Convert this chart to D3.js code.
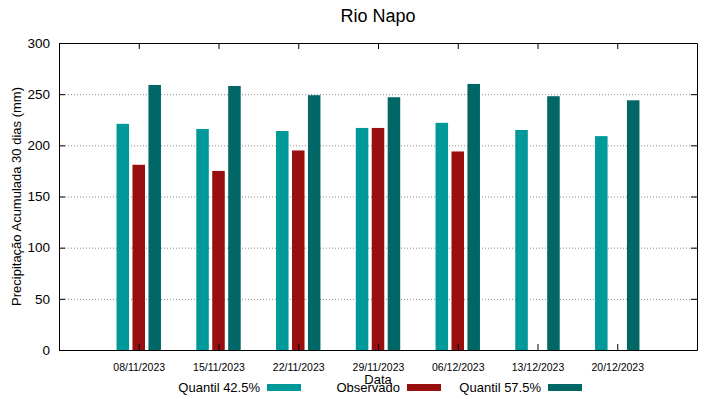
<!DOCTYPE html>
<html>
<head>
<meta charset="utf-8">
<script src="https://cdn.jsdelivr.net/npm/d3@7"></script>
<style>
  body { margin: 0; background: #fff; }
  svg { font-family: "Liberation Sans", Arial, sans-serif; }
</style>
</head>
<body>
<div id="chart"></div>
<script>
const dates = ["08/11/2023", "15/11/2023", "22/11/2023", "29/11/2023", "06/12/2023", "13/12/2023", "20/12/2023"];
const quantil425 = [221, 216, 214, 217, 222, 215, 209];
const observado = [181, 175, 195, 217, 194, null, null];
const quantil575 = [259, 258, 249, 247, 260, 248, 244];
const yTicks = [0, 50, 100, 150, 200, 250, 300];

const series = [
  { name: "Quantil 42.5%", values: quantil425, color: "#009999", offset: -1 },
  { name: "Observado", values: observado, color: "#990f0f", offset: 0 },
  { name: "Quantil 57.5%", values: quantil575, color: "#006666", offset: 1 }
];

const width = 719, height = 399;
const margin = { top: 43, right: 22, bottom: 49, left: 59 };

const svg = d3.select("#chart").append("svg")
  .attr("width", width)
  .attr("height", height);

const x = d3.scaleLinear().domain([-1, dates.length]).range([margin.left, width - margin.right]);
const y = d3.scaleLinear().domain([0, 300]).range([height - margin.bottom, margin.top]);

const barW = 0.157, step = 0.2;

// grid lines
svg.append("g")
  .selectAll("line")
  .data(yTicks.filter(d => d > 0 && d < 300))
  .join("line")
  .attr("x1", margin.left).attr("x2", width - margin.right)
  .attr("y1", d => y(d) + 0.5).attr("y2", d => y(d) + 0.5)
  .attr("stroke", "#888")
  .attr("stroke-width", 1)
  .attr("stroke-dasharray", "1,2");

// bars
series.forEach(s => {
  svg.append("g")
    .selectAll("rect")
    .data(s.values.map((v, i) => ({ v, i })).filter(d => d.v != null))
    .join("rect")
    .attr("x", d => x(d.i + s.offset * step - barW / 2))
    .attr("width", x(barW) - x(0))
    .attr("y", d => y(d.v))
    .attr("height", d => y(0) - y(d.v))
    .attr("fill", s.color);
});

// axes (gnuplot-like box with inward ticks)
const axisL = d3.axisLeft(y).tickValues(yTicks).tickSizeInner(-6).tickSizeOuter(0).tickPadding(9);
const axisR = d3.axisRight(y).tickValues(yTicks).tickSizeInner(-6).tickSizeOuter(0).tickFormat("");
const axisB = d3.axisBottom(x).tickValues(d3.range(dates.length)).tickSizeInner(-6).tickSizeOuter(0)
  .tickPadding(14).tickFormat(i => dates[i]);
const axisT = d3.axisTop(x).tickValues(d3.range(dates.length)).tickSizeInner(-6).tickSizeOuter(0).tickFormat("");

svg.append("g").attr("transform", `translate(${margin.left},0)`).call(axisL)
  .call(g => g.selectAll("text").attr("font-size", 13.5).attr("fill", "#000").attr("font-family", "Liberation Sans"));
svg.append("g").attr("transform", `translate(${width - margin.right},0)`).call(axisR);
svg.append("g").attr("transform", `translate(0,${height - margin.bottom})`).call(axisB)
  .call(g => g.selectAll("text").attr("font-size", 10.5).attr("fill", "#000").attr("font-family", "Liberation Sans"));
svg.append("g").attr("transform", `translate(0,${margin.top})`).call(axisT);
svg.selectAll(".domain").attr("stroke", "#000");
svg.selectAll(".tick line").attr("stroke", "#000");

// title and axis labels
svg.append("text")
  .attr("x", 378).attr("y", 22)
  .attr("text-anchor", "middle")
  .attr("font-size", 18)
  .text("Rio Napo");

svg.append("text")
  .attr("transform", `translate(21,${(margin.top + height - margin.bottom) / 2}) rotate(-90)`)
  .attr("text-anchor", "middle")
  .attr("font-size", 13)
  .text("Precipitação Acumulada 30 dias (mm)");

svg.append("text")
  .attr("x", 378).attr("y", 384)
  .attr("text-anchor", "middle")
  .attr("font-size", 13)
  .text("Data");

// legend
const legendX = [260, 400, 541];
const legend = svg.append("g")
  .selectAll("g")
  .data(series)
  .join("g")
  .attr("transform", (d, i) => `translate(${legendX[i]},392)`);

legend.append("text")
  .attr("text-anchor", "end")
  .attr("font-size", 13)
  .text(d => d.name);

legend.append("rect")
  .attr("x", 7).attr("y", -8)
  .attr("width", 34).attr("height", 7)
  .attr("fill", d => d.color);
</script>
</body>
</html>
